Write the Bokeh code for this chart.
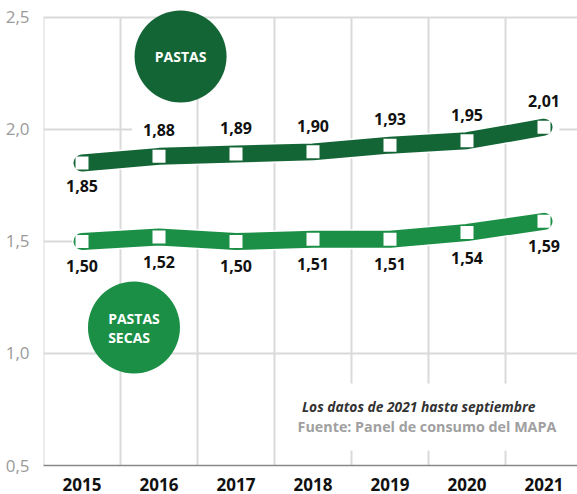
import numpy as np
from bokeh.plotting import figure
from bokeh.models import (ColumnDataSource, LabelSet, Label, Range1d, FixedTicker,
                          CustomJSTickFormatter)
from bokeh.core.properties import value
from bokeh.embed import file_html
from bokeh.resources import INLINE

# ---- data ----
years = ["2015", "2016", "2017", "2018", "2019", "2020", "2021"]
pastas = [1.85, 1.88, 1.89, 1.90, 1.93, 1.95, 2.01]
secas = [1.50, 1.52, 1.50, 1.51, 1.51, 1.54, 1.59]
y_ticks = [0.5, 1.0, 1.5, 2.0, 2.5]
series_names = ["PASTAS", "PASTAS\nSECAS"]
note_lines = ["Los datos de 2021 hasta septiembre",
              "Fuente: Panel de consumo del MAPA"]

# ---- style ----
DARK = "#146536"
LIGHT = "#1b8f46"
GRID = "#dadada"
FONT = "Open Sans"


def fmt(v):
    return f"{v:.2f}".replace(".", ",")


x = list(range(len(years)))

p = figure(width=577, height=494, output_backend="svg", toolbar_location=None,
           x_range=Range1d(-0.5, 6.435), y_range=Range1d(0.5, 2.54),
           min_border_left=43, min_border_right=0, min_border_top=8,
           min_border_bottom=29)
p.outline_line_color = None
p.xgrid.visible = False
p.ygrid.ticker = FixedTicker(ticks=[1.0, 2.5])
p.ygrid.grid_line_color = GRID
p.ygrid.grid_line_width = 2

# vertical grid lines between categories
gx = [i - 0.5 for i in x]
p.segment(x0=gx, y0=[0.5] * len(gx), x1=gx, y1=[2.5] * len(gx),
          line_color=GRID, line_width=2, level="underlay")
# partial horizontal grid lines
p.segment(x0=[-0.5, 6.2, -0.5], y0=[2.0, 2.0, 1.5], x1=[0.65, 7.0, 0.0],
          y1=[2.0, 2.0, 1.5], line_color=GRID, line_width=2, level="underlay")

# white box behind note
p.quad(left=[2.71], right=[7.0], bottom=[0.567], top=[0.866],
       fill_color="white", line_color=None)

# series lines
for ys, col in ((pastas, DARK), (secas, LIGHT)):
    p.line(x, ys, line_width=20, line_color="white", line_cap="round",
           line_join="round")
    p.line(x, ys, line_width=17, line_color=col, line_cap="round",
           line_join="round")
    p.scatter(x, ys, marker="square", size=13, fill_color="white",
              line_color=None)

# value labels
src_p = ColumnDataSource(dict(x=x, y=pastas, label=[fmt(v) for v in pastas],
                              off=[-23] + [26] * 6))
src_s = ColumnDataSource(dict(x=x, y=secas, label=[fmt(v) for v in secas],
                              off=[-25] * 7))
for src in (src_p, src_s):
    p.add_layout(LabelSet(x="x", y="y", text="label", y_offset="off",
                          source=src, text_align="center",
                          text_baseline="middle", text_font=value(FONT),
                          text_font_style="bold", text_font_size="16px",
                          text_color="#111111"))

# bubbles with series names
bub = ColumnDataSource(dict(x=[1.28, 0.675], y=[2.326, 1.116],
                            color=[DARK, LIGHT], name=series_names))
p.scatter("x", "y", source=bub, marker="circle", size=92,
          fill_color="color", line_color=None)
p.add_layout(LabelSet(x="x", y="y", text="name", source=bub,
                      text_align="center", text_baseline="middle",
                      text_font=value(FONT), text_font_style="bold",
                      text_font_size="14px", text_color="white",
                      text_line_height=1.0))

# note
p.add_layout(Label(x=5.89, y=0.763, text=note_lines[0], text_align="right",
                   text_baseline="middle", text_font=FONT,
                   text_font_style="bold italic", text_font_size="13.8px",
                   text_color="#333333"))
p.add_layout(Label(x=6.16, y=0.674, text=note_lines[1], text_align="right",
                   text_baseline="middle", text_font=FONT,
                   text_font_style="bold", text_font_size="14.3px",
                   text_color="#a0a0a0"))

# axes
p.xaxis.ticker = FixedTicker(ticks=x)
p.xaxis.formatter = CustomJSTickFormatter(
    args=dict(labels=years), code="return labels[Math.round(tick)] ?? '';")
p.xaxis.major_label_text_font = FONT
p.xaxis.major_label_text_font_style = "bold"
p.xaxis.major_label_text_font_size = "17px"
p.xaxis.major_label_text_color = "#111111"
p.xaxis.axis_line_color = "#888888"
p.xaxis.axis_line_width = 1.5
p.xaxis.major_tick_line_color = None
p.xaxis.minor_tick_line_color = None
p.xaxis.major_label_standoff = 6

p.yaxis.ticker = FixedTicker(ticks=y_ticks)
p.yaxis.formatter = CustomJSTickFormatter(
    code="return tick.toFixed(1).replace('.', ',');")
p.yaxis.axis_line_color = None
p.yaxis.major_tick_line_color = None
p.yaxis.minor_tick_line_color = None
p.yaxis.major_label_text_font = FONT
p.yaxis.major_label_text_font_size = "17px"
p.yaxis.major_label_text_color = "#9a9a9a"
p.yaxis.major_label_standoff = 8

open("out.html", "w").write(file_html(p, INLINE))
